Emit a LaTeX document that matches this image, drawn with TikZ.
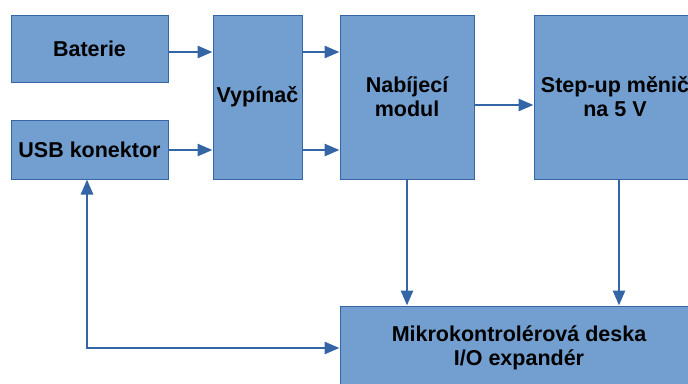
\documentclass[tikz,border=0pt]{standalone}
\usepackage{fontspec}
\setmainfont{Liberation Sans}
\usetikzlibrary{arrows.meta}
\definecolor{boxfill}{HTML}{729FCF}
\definecolor{boxline}{HTML}{3465A4}
\begin{document}
\begin{tikzpicture}[x=1pt,y=-1pt,
  blk/.style={draw=boxline, fill=boxfill, line width=1pt, rectangle, inner sep=0pt,
    align=center, font=\bfseries\fontsize{21.5}{24}\selectfont},
  conn/.style={draw=boxline, line width=2.7pt, -{Triangle[length=15pt,width=12pt]}},
  dconn/.style={draw=boxline, line width=2.7pt, {Triangle[length=15pt,width=12pt]}-{Triangle[length=15pt,width=12pt]}}]
\useasboundingbox (0,0) rectangle (688,383);
\clip (0,0) rectangle (688,383);
\node[blk, minimum width=157pt, minimum height=67pt] (bat) at (89.5,48.5) {Baterie};
\node[blk, minimum width=157pt, minimum height=59pt] (usb) at (89.5,149.5) {USB konektor};
\node[blk, minimum width=89pt, minimum height=164pt] (vyp) at (257.5,97) {Vypínač};
\node[blk, minimum width=134pt, minimum height=164pt] (nab) at (407,97) {Nabíjecí\\modul};
\node[blk, minimum width=162pt, minimum height=164pt] (step) at (615,97) {Step-up měnič\\na 5 V};
\node[blk, minimum width=358pt, minimum height=84pt] (mik) at (519,348) {Mikrokontrolérová deska\\I/O expandér};
\coordinate (b1) at (0,52);
\coordinate (b2) at (0,150);
\coordinate (b3) at (0,105);
\coordinate (sx) at (619,0);
\coordinate (ux) at (87,0);
\coordinate (corner) at (87,348);
\draw[conn] (bat.east |- b1) -- (vyp.west |- b1);
\draw[conn] (usb.east |- b2) -- (vyp.west |- b2);
\draw[conn] (vyp.east |- b1) -- (nab.west |- b1);
\draw[conn] (vyp.east |- b2) -- (nab.west |- b2);
\draw[conn] (nab.east |- b3) -- (step.west |- b3);
\draw[conn] (nab.south) -- (mik.north -| nab.south);
\draw[conn] (sx |- step.south) -- (sx |- mik.north);
\draw[dconn] (ux |- usb.south) -- (corner) -- (mik.west |- corner);
\end{tikzpicture}
\end{document}
